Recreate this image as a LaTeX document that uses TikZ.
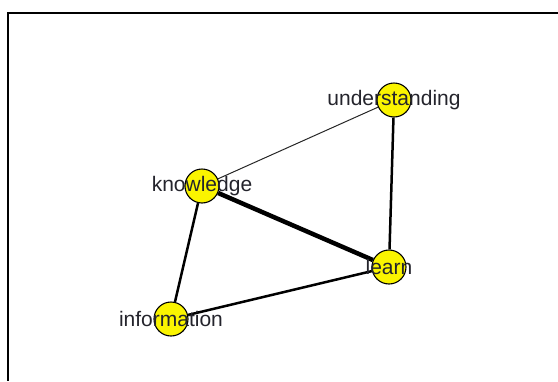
\documentclass[tikz,border=0pt]{standalone}
\usepackage{fontspec}
\setmainfont{Liberation Sans}
\usepackage{tikz}
\usetikzlibrary{positioning,calc}
\definecolor{vyellow}{RGB}{250,244,0}
\definecolor{vtext}{RGB}{36,36,44}
\newcommand{\vnode}[2]{\node [vertex] (#1) at (#2) {}}
\newcommand{\vlabel}[2]{\node [vname] at (#1) {#2}}

\begin{document}
\begin{tikzpicture}[x=1pt,y=-1pt,
  vertex/.style={circle,draw=black,line width=1.1pt,fill=vyellow,minimum size=34pt,inner sep=0pt},
  vname/.style={text=vtext,font=\fontsize{21}{24}\selectfont,inner sep=0pt},
  thin/.style={line width=1pt,black!85},
  mid/.style={line width=2.5pt},
  heavy/.style={line width=4.5pt}]

\useasboundingbox (0,0) rectangle (558,381);
\draw[line width=2pt] (558,13) -- (8,13) -- (8,381);

\vnode{UND}{394,100};
\vnode{KNOW}{202,186};
\vnode{INFO}{171,319};
\vnode{LEARN}{389,267};

\draw[thin] (KNOW) -- (UND);
\draw[mid] (UND) -- (LEARN);
\draw[heavy] (KNOW) -- (LEARN);
\draw[mid] (KNOW) -- (INFO);
\draw[mid] (INFO) -- (LEARN);

\vlabel{UND}{understanding};
\vlabel{KNOW}{knowledge};
\vlabel{INFO}{information};
\vlabel{LEARN}{learn};

\end{tikzpicture}
\end{document}
